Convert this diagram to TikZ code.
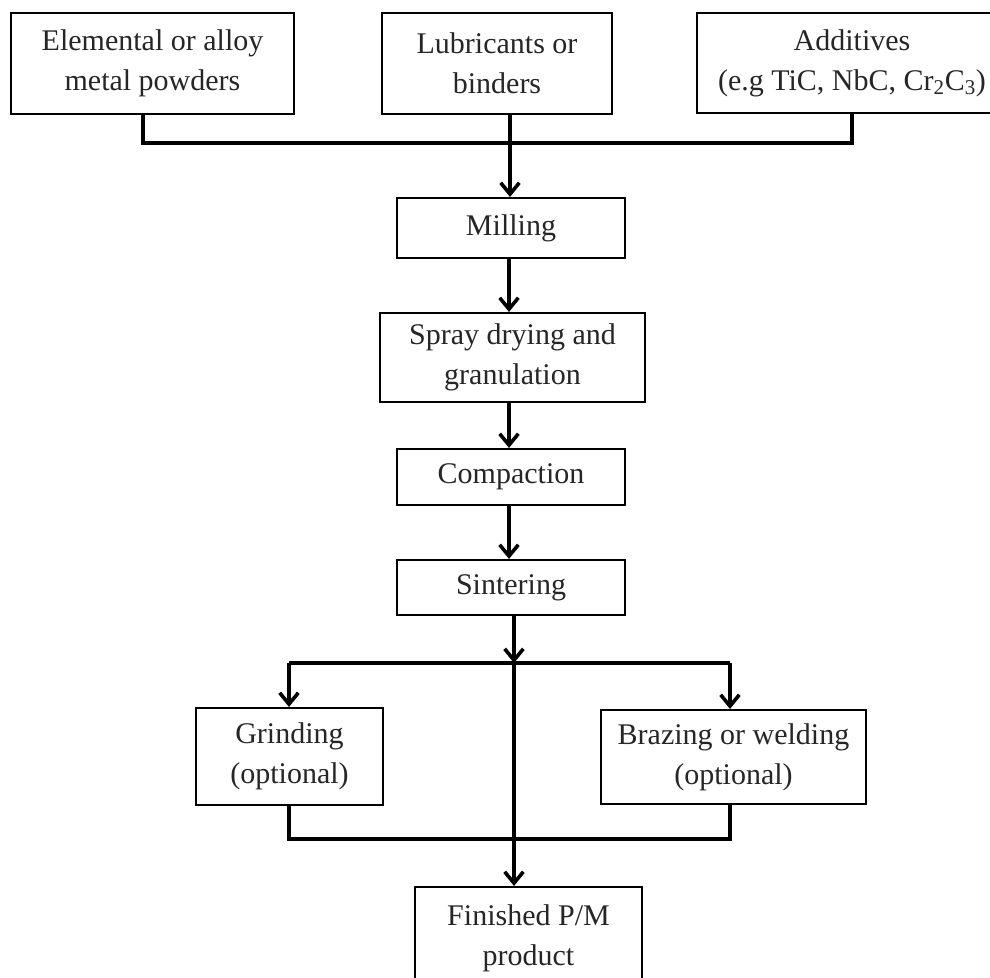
\documentclass[tikz,border=0pt]{standalone}
\usepackage{fontspec}
\setmainfont{Liberation Serif}
\usetikzlibrary{arrows.meta}
\tikzset{
  box/.style={draw=black, line width=1.6pt, fill=white, align=center, inner sep=0pt,
              font=\fontsize{22.5}{30}\selectfont, text=black!85},
  conn/.style={line width=2.7pt, line cap=butt, line join=miter},
  arr/.style={conn, -{Straight Barb[length=8.5pt,width=14pt]}}
}
\begin{document}
\begin{tikzpicture}[x=0.75pt,y=-0.75pt]
\useasboundingbox (0,0) rectangle (990,978);
% nodes
\node[box, minimum width=212.25pt, minimum height=75.75pt] (b1) at (152.5,63.5) {Elemental or alloy\\metal powders};
\node[box, minimum width=172.5pt, minimum height=75.75pt] (b2) at (497,63.5) {Lubricants or\\binders};
\node[box, minimum width=232.5pt, minimum height=75pt] (b3) at (852,63) {Additives\\(e.g TiC, NbC, Cr\textsubscript{2}C\textsubscript{3})};
\node[box, minimum width=171pt, minimum height=45pt] (mill) at (511,228) {Milling};
\node[box, minimum width=198.75pt, minimum height=66.75pt] (spray) at (512.5,357.5) {Spray drying and\\granulation};
\node[box, minimum width=171pt, minimum height=42pt] (comp) at (511,477) {Compaction};
\node[box, minimum width=171pt, minimum height=41.25pt] (sint) at (511,587.5) {Sintering};
\node[box, minimum width=140.25pt, minimum height=72.75pt] (grind) at (289.5,756.5) {Grinding\\(optional)};
\node[box, minimum width=198.75pt, minimum height=70.5pt] (braz) at (733.5,757) {Brazing or welding\\(optional)};
\node[box, minimum width=170.25pt, minimum height=72pt, text depth=0pt] (fin) at (528.5,935) {Finished P/M\\product};
% junctions
\coordinate (t1) at (143,143);
\coordinate (t2) at (510,143);
\coordinate (t3) at (852,143);
\coordinate (s1) at (514,663);
\coordinate (g1) at (289,663);
\coordinate (r1) at (730,663);
\coordinate (g2) at (289,839);
\coordinate (r2) at (730,839);
% top bus
\draw[conn] (b1.south -| t1) -- (t1) -- (t3) -- (b3.south -| t3);
\draw[conn] (b2.south -| t2) -- (t2);
\draw[arr] (t2) -- (mill.north -| t2);
% main chain
\draw[arr] (mill.south -| 509,0) -- (spray.north -| 509,0);
\draw[arr] (spray.south -| 509,0) -- (comp.north -| 509,0);
\draw[arr] (comp.south -| 509,0) -- (sint.north -| 509,0);
\draw[arr] (sint.south -| s1) -- (s1);
% branch
\draw[conn] (g1) -- (r1);
\draw[arr] (g1) -- (grind.north -| g1);
\draw[arr] (r1) -- (braz.north -| r1);
% bottom bus
\draw[conn] (grind.south -| g2) -- (g2) -- (r2) -- (braz.south -| r2);
\draw[arr] (s1) -- (fin.north -| s1);
\end{tikzpicture}
\end{document}
